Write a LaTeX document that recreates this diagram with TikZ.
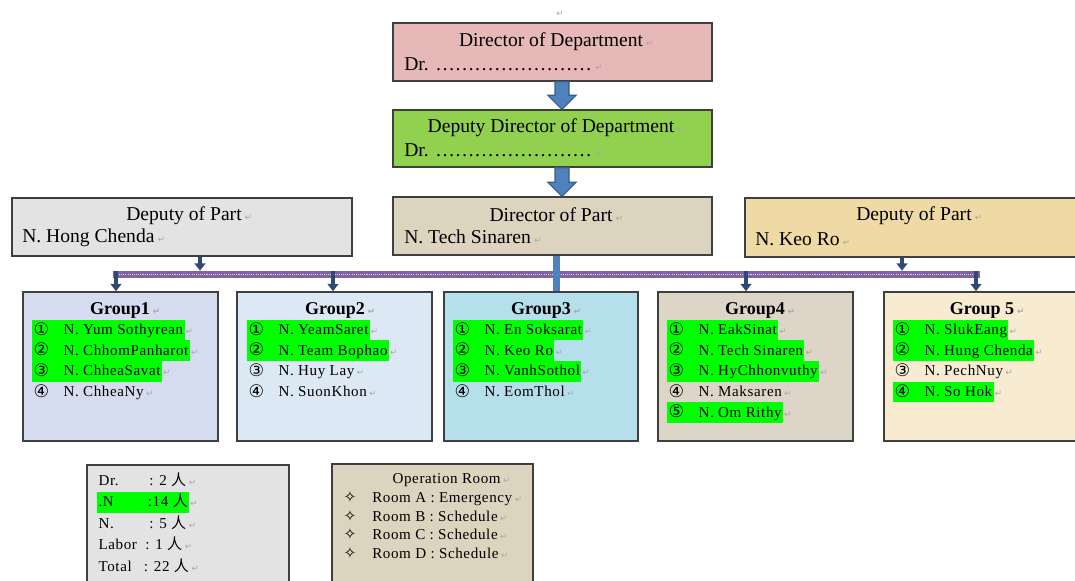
\documentclass[tikz,border=0pt]{standalone}
\usepackage{fontspec}
\setmainfont{Liberation Serif}
\newfontfamily\memf[LetterSpace=4]{Liberation Serif}
\newfontfamily\symf{DejaVu Sans}
\newfontfamily\cjkf{Noto Sans CJK SC}
\usetikzlibrary{fit,calc,arrows.meta}
\definecolor{boxline}{HTML}{3F3F3F}
\definecolor{pinkf}{HTML}{E6B9B8}
\definecolor{greenf}{HTML}{92D050}
\definecolor{burlap}{HTML}{DDD4BF}
\definecolor{marble}{HTML}{E3E3E3}
\definecolor{papyrus}{HTML}{EFD9A5}
\definecolor{gone}{HTML}{D5DCF0}
\definecolor{gtwo}{HTML}{DDE8F5}
\definecolor{gthree}{HTML}{B5E0EB}
\definecolor{gfour}{HTML}{DCD5C8}
\definecolor{gfive}{HTML}{F7EBD2}
\definecolor{hlgreen}{HTML}{00FF00}
\definecolor{barpurple}{HTML}{8064A2}
\definecolor{bardot}{HTML}{DCD4EA}
\definecolor{conndark}{HTML}{2E4A74}
\definecolor{blueA}{HTML}{4F81BD}
\definecolor{blueB}{HTML}{385D8A}
\definecolor{retgray}{HTML}{A6A6A6}
\newcommand{\rmk}{\rlap{\,\textcolor{retgray}{\symf\fontsize{6.5}{6.5}\selectfont ↵}}}
\newcommand{\cdg}[1]{\makebox[22.5pt][l]{\raisebox{-0.6pt}{\symf\fontsize{13}{13}\selectfont #1}}}
\newcommand{\bul}{\makebox[21.5pt][l]{\symf\fontsize{11.5}{12}\selectfont ✧}}
\newcommand{\ren}{{\cjkf 人}}
\newcommand{\ttlsize}{\fontsize{14.7}{17}\selectfont}
\tikzset{
  box/.style={draw=boxline, line width=1.1pt, inner sep=0pt, rectangle},
  ttl/.style={inner sep=0pt, font=\ttlsize},
  gttl/.style={inner sep=0pt, font=\fontsize{13.5}{16}\selectfont\bfseries},
  mem/.style={anchor=west, inner xsep=1pt, inner ysep=0pt, text height=11pt, text depth=4.5pt, font=\memf\fontsize{11.3}{13}\selectfont},
  hl/.style={fill=hlgreen},
  conn/.style={draw=conndark, line width=2.6pt, -{Triangle[width=8pt,length=5.5pt]}},
  bluecon/.style={draw=blueA, line width=5.25pt},
  blockarrow/.style={fill=blueA, draw=blueB, line width=0.8pt, line join=miter}
}
\begin{document}
\begin{tikzpicture}[x=0.75pt,y=-0.75pt]
\useasboundingbox (0,0) rectangle (1075,581);

% top paragraph mark
\node[inner sep=0pt, font=\symf\fontsize{6.5}{6.5}\selectfont, text=retgray] (topmark) at (560,14) {↵};

% boxes
\node[box, fill=pinkf, fit={(393,23)(712,81)}] (dir) {};
\node[box, fill=greenf, fit={(393,110)(712,167)}] (ddir) {};
\node[box, fill=burlap, fit={(393,197)(712,255)}] (dpart) {};
\node[box, fill=marble, fit={(12,198)(352,256)}] (ldep) {};
\node[box, fill=papyrus, fit={(745,198)(1080,257)}] (rdep) {};

\node[box, fill=gone, fit={(23,292)(218,441)}] (g1) {};
\node[box, fill=gtwo, fit={(237,292)(432,441)}] (g2) {};
\node[box, fill=gthree, fit={(444,292)(638,441)}] (g3) {};
\node[box, fill=gfour, fit={(658,292)(853,441)}] (g4) {};
\node[box, fill=gfive, fit={(884,292)(1082,441)}] (g5) {};

\node[box, fill=marble, fit={(87,465)(289,595)}] (stats) {};
\node[box, fill=burlap, fit={(332,464)(533,595)}] (oproom) {};

% box texts
\node[ttl] (dirT) at (551,42) {Director of Department\rmk};
\node[ttl, anchor=west] (dirN) at (404,64) {Dr. ……………………\rmk};
\node[ttl] (ddirT) at (551,128) {Deputy Director of Department\rmk};
\node[ttl, anchor=west] (ddirN) at (404,150) {Dr. ……………………\rmk};
\node[ttl] (dpartT) at (551,215) {Director of Part\rmk};
\node[ttl, anchor=west] (dpartN) at (404,237) {N. Tech Sinaren\rmk};
\node[ttl] (ldepT) at (184,216) {Deputy of Part\rmk};
\node[ttl, anchor=west] (ldepN) at (22,238) {N. Hong Chenda\rmk};
\node[ttl] (rdepT) at (914,216) {Deputy of Part\rmk};
\node[ttl, anchor=west] (rdepN) at (755,239) {N. Keo Ro\rmk};

% block arrows
\coordinate (ax) at (562,0);
\coordinate (aT1) at (dir.south -| ax);
\coordinate (aB1) at (ddir.north -| ax);
\coordinate (aT2) at (ddir.south -| ax);
\coordinate (aB2) at (dpart.north -| ax);
\draw[blockarrow] ($(aT1)+(-7,0)$) -- ($(aT1)+(7,0)$) -- ($(aB1)+(7,-14)$) -- ($(aB1)+(14,-14)$) -- (aB1) -- ($(aB1)+(-14,-14)$) -- ($(aB1)+(-7,-14)$) -- cycle;
\draw[blockarrow] ($(aT2)+(-7,0)$) -- ($(aT2)+(7,0)$) -- ($(aB2)+(7,-14)$) -- ($(aB2)+(14,-14)$) -- (aB2) -- ($(aB2)+(-14,-14)$) -- ($(aB2)+(-7,-14)$) -- cycle;

% horizontal bar
\node[fill=barpurple, inner sep=0pt, fit={(113,271)(980,278)}] (bar) {};
\draw[bardot, line width=1.4pt, dash pattern=on 0.8pt off 0.8pt] ($(bar.west)+(2,0)$) -- ($(bar.east)+(-2,0)$);

% connectors
\coordinate (c1) at (116,0);
\coordinate (c2) at (333,0);
\coordinate (c3) at (556,0);
\coordinate (c4) at (746,0);
\coordinate (c5) at (976,0);
\coordinate (cl) at (200,0);
\coordinate (cr) at (902,0);
\draw[conn] (ldep.south -| cl) -- (bar.north -| cl);
\draw[conn] (rdep.south -| cr) -- (bar.north -| cr);
\draw[conn] (bar.north -| c1) -- (g1.north -| c1);
\draw[conn] (bar.north -| c2) -- (g2.north -| c2);
\draw[conn] (bar.north -| c4) -- (g4.north -| c4);
\draw[conn] (bar.north -| c5) -- (g5.north -| c5);
\draw[bluecon] (dpart.south -| c3) -- (g3.north -| c3);

% group titles
\node[gttl] (g1T) at (120,310.5) {Group1\rmk};
\node[gttl] (g2T) at (335,310.5) {Group2\rmk};
\node[gttl] (g3T) at (541,310.5) {Group3\rmk};
\node[gttl] (g4T) at (755,310.5) {Group4\rmk};
\node[gttl] (g5T) at (982,310.5) {Group 5\rmk};

% group members
\node[mem, hl] (g1a) at (32,330) {\cdg{①}N. Yum Sothyrean\rmk};
\node[mem, hl] (g1b) at (32,350.7) {\cdg{②}N. ChhomPanharot\rmk};
\node[mem, hl] (g1c) at (32,371.4) {\cdg{③}N. ChheaSavat\rmk};
\node[mem] (g1d) at (32,392.1) {\cdg{④}N. ChheaNy\rmk};

\node[mem, hl] (g2a) at (247,330) {\cdg{①}N. YeamSaret\rmk};
\node[mem, hl] (g2b) at (247,350.7) {\cdg{②}N. Team Bophao\rmk};
\node[mem] (g2c) at (247,371.4) {\cdg{③}N. Huy Lay\rmk};
\node[mem] (g2d) at (247,392.1) {\cdg{④}N. SuonKhon\rmk};

\node[mem, hl] (g3a) at (453,330) {\cdg{①}N. En Soksarat\rmk};
\node[mem, hl] (g3b) at (453,350.7) {\cdg{②}N. Keo Ro\rmk};
\node[mem, hl] (g3c) at (453,371.4) {\cdg{③}N. VanhSothol\rmk};
\node[mem] (g3d) at (453,392.1) {\cdg{④}N. EomThol\rmk};

\node[mem, hl] (g4a) at (667,330) {\cdg{①}N. EakSinat\rmk};
\node[mem, hl] (g4b) at (667,350.7) {\cdg{②}N. Tech Sinaren\rmk};
\node[mem, hl] (g4c) at (667,371.4) {\cdg{③}N. HyChhonvuthy\rmk};
\node[mem] (g4d) at (667,392.1) {\cdg{④}N. Maksaren\rmk};
\node[mem, hl] (g4e) at (667,412.8) {\cdg{⑤}N. Om Rithy\rmk};

\node[mem, hl] (g5a) at (893,330) {\cdg{①}N. SlukEang\rmk};
\node[mem, hl] (g5b) at (893,350.7) {\cdg{②}N. Hung Chenda\rmk};
\node[mem] (g5c) at (893,371.4) {\cdg{③}N. PechNuy\rmk};
\node[mem, hl] (g5d) at (893,392.1) {\cdg{④}N. So Hok\rmk};

% statistics
\node[mem] (s1) at (97,481) {\makebox[38pt][l]{Dr.}: 2 \ren\rmk};
\node[mem, hl] (s2) at (97,502.5) {\makebox[37pt][l]{.N}:14 \ren\rmk};
\node[mem] (s3) at (97,524) {\makebox[38pt][l]{N.}: 5 \ren\rmk};
\node[mem] (s4) at (97,545.5) {\makebox[35pt][l]{Labor}: 1 \ren\rmk};
\node[mem] (s5) at (97,567) {\makebox[34pt][l]{Total}: 22 \ren\rmk};

% operation room
\node[mem] (opT) at (391,479) {Operation Room\rmk};
\node[mem] (op1) at (342,498) {\bul Room A : Emergency\rmk};
\node[mem] (op2) at (342,516.7) {\bul Room B : Schedule\rmk};
\node[mem] (op3) at (342,535.4) {\bul Room C : Schedule\rmk};
\node[mem] (op4) at (342,554.1) {\bul Room D : Schedule\rmk};
\end{tikzpicture}
\end{document}
